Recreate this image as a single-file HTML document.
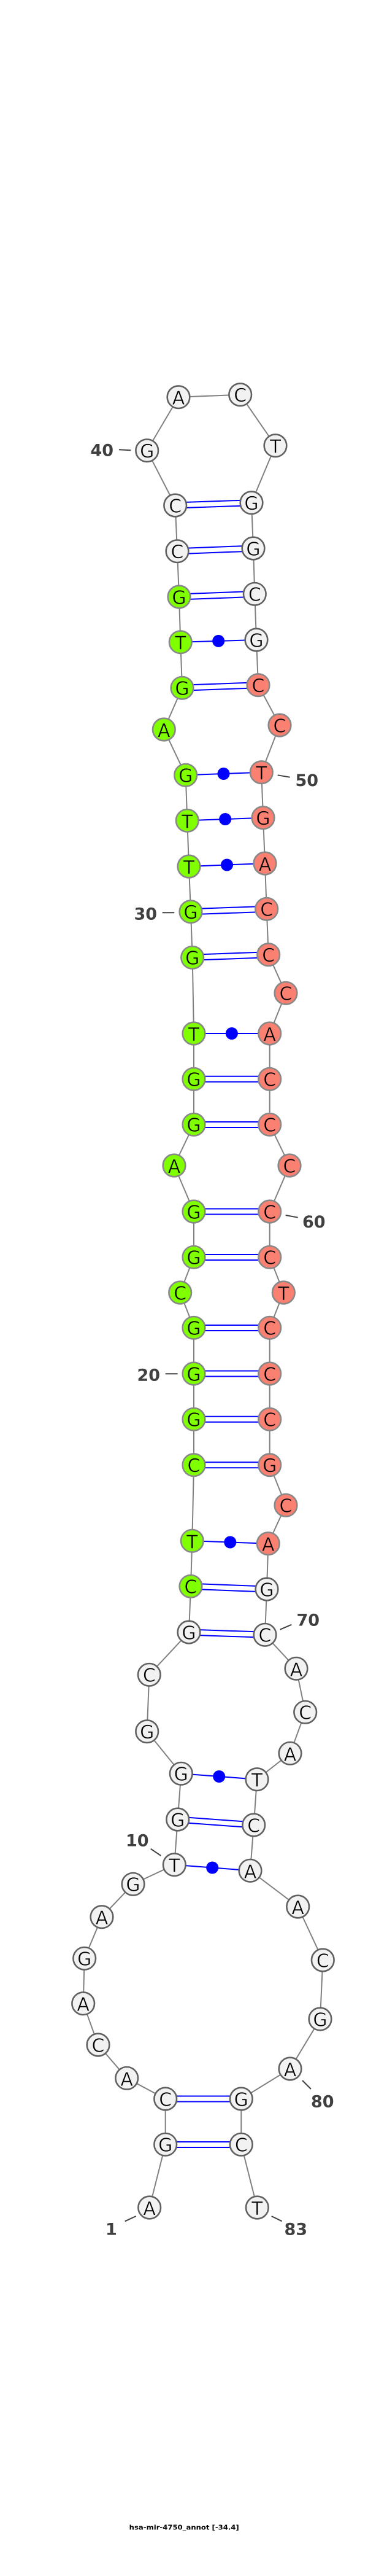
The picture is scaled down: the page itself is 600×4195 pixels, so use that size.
<!DOCTYPE html>
<html><head><meta charset="utf-8"><title>hsa-mir-4750_annot</title>
<style>
html,body{margin:0;padding:0;background:#fff}
svg{display:block}
.w circle{fill:#f2f2f2;stroke:#606060}
.g circle{fill:#7fff00;stroke:#888}
.r circle{fill:#fa8072;stroke:#888}
circle.n,.w circle,.g circle,.r circle{stroke-width:2.6}
.w text,.g text,.r text{font:30px "DejaVu Sans",sans-serif;fill:#000;text-anchor:middle;stroke-width:.6}
.w text{stroke:#f2f2f2}
.g text{stroke:#7fff00}
.r text{stroke:#fa8072}
.num{font:bold 27px "DejaVu Sans",sans-serif;fill:#404040}
</style></head><body>
<svg xmlns="http://www.w3.org/2000/svg" width="600" height="4195" viewBox="0 0 600 4195">
<rect width="600" height="4195" fill="#fff"/>
<polyline fill="none" stroke="#808080" stroke-width="2" points="243.7,3595 269.7,3492.3 269.7,3418 206.7,3384.3 160,3330 135.7,3262.7 137.7,3189.3 166,3121.7 217,3068.3 284.3,3036.7 289.7,2963 295.3,2888.3 239.7,2819.7 243.3,2727.3 308,2658 311,2583.3 313.3,2509.3 316,2385.7 316,2311.3 316,2237 316,2162.3 293.7,2105 316,2047.3 316,1973 284,1898 316,1831.3 316,1757.3 316,1683 313.7,1559.3 311,1484.7 308,1411 305.3,1336.3 302.7,1262.3 267.3,1188 297,1120.3 294.3,1045.7 292,972 289,897.7 285.7,823 239.7,733.7 291,646.7 391.7,642.7 449,725.7 410,818.7 413,893 415.3,967.3 418,1042 421,1115.7 456,1181 426.3,1257.7 429,1331.7 432,1406 434.7,1480.3 437.7,1554.7 466,1617.3 439.7,1683 439.7,1757.3 439.7,1831.3 472,1898 439.7,1973 439.7,2047.3 462.3,2105 439.7,2162.3 439.7,2237 439.7,2311.3 439.7,2385.7 466,2451.3 437.3,2513.7 435,2588 432,2662.3 483,2717.3 497.7,2788.3 473,2855.3 419,2897.7 413.7,2972 408,3046.3 485.7,3105 526.3,3192 522,3288 473,3369 393.3,3418 393.3,3492.3 419.3,3595"/>
<g stroke="#0000ff" stroke-width="2" fill="none">
<path d="M285.7 818.5L410 814.2M285.7 827.5L410 823.2"/>
<path d="M289 893.2L413 888.5M289 902.2L413 897.5"/>
<path d="M292 967.5L415.3 962.8M292 976.5L415.3 971.8"/>
<path d="M294.3 1045.7L418 1042"/>
<path d="M297 1115.8L421 1111.2M297 1124.8L421 1120.2"/>
<path d="M302.7 1262.3L426.3 1257.7"/>
<path d="M305.3 1336.3L429 1331.7"/>
<path d="M308 1411L432 1406"/>
<path d="M311 1480.2L434.7 1475.8M311 1489.2L434.7 1484.8"/>
<path d="M313.7 1554.8L437.7 1550.2M313.7 1563.8L437.7 1559.2"/>
<path d="M316 1683H439.7"/>
<path d="M316 1752.8H439.7M316 1761.8H439.7"/>
<path d="M316 1827H439.7M316 1836H439.7"/>
<path d="M316 1968.5H439.7M316 1977.5H439.7"/>
<path d="M316 2043H439.7M316 2052H439.7"/>
<path d="M316 2158H439.7M316 2167H439.7"/>
<path d="M316 2232.5H439.7M316 2241.5H439.7"/>
<path d="M316 2306.8H439.7M316 2315.8H439.7"/>
<path d="M316 2381.2H439.7M316 2390.2H439.7"/>
<path d="M313.3 2509.3L437.3 2513.7"/>
<path d="M311 2578.8L435 2583.5M311 2587.8L435 2592.5"/>
<path d="M308 2653.5L432 2657.8M308 2662.5L432 2666.8"/>
<path d="M295.3 2888.3L419 2897.7"/>
<path d="M289.7 2958.5L413.7 2967.5M289.7 2967.5L413.7 2976.5"/>
<path d="M284.3 3036.7L408 3046.3"/>
<path d="M269.7 3413.5H393.3M269.7 3422.5H393.3"/>
<path d="M269.7 3488H393.3M269.7 3497H393.3"/>
</g>
<g fill="#0000ff">
<circle cx="356.2" cy="1043.9" r="10"/>
<circle cx="364.5" cy="1260" r="10"/>
<circle cx="367.2" cy="1334" r="10"/>
<circle cx="370" cy="1408.5" r="10"/>
<circle cx="377.9" cy="1683" r="10"/>
<circle cx="375.3" cy="2511.5" r="10"/>
<circle cx="357.2" cy="2893" r="10"/>
<circle cx="346.2" cy="3041.5" r="10"/>
</g>
<g stroke="#404040" stroke-width="2" fill="none">
<path d="M194 732.3L213.3 733.3"/>
<path d="M452.7 1262.3L472.7 1265.7"/>
<path d="M264.7 1486.3H284.3"/>
<path d="M465.7 1979L485.7 1982.7"/>
<path d="M269.7 2237.3H289.7"/>
<path d="M456.7 2653.7L475.3 2645.7"/>
<path d="M245.7 3010.7L262.3 3022"/>
<path d="M493 3388L507 3402"/>
<path d="M203.7 3617.3L221.7 3609"/>
<path d="M442.7 3609L459.7 3617.3"/>
</g>
<g class="w">
<circle cx="291" cy="646.7" r="18.3"/><text x="291" y="658.7">A</text>
<circle cx="391.7" cy="642.7" r="18.3"/><text x="391.7" y="654">C</text>
<circle cx="449" cy="725.7" r="18.3"/><text x="449" y="737.7">T</text>
<circle cx="239.7" cy="733.7" r="18.3"/><text x="239.7" y="745">G</text>
<circle cx="285.7" cy="823" r="18.3"/><text x="285.7" y="834.3">C</text>
<circle cx="410" cy="818.7" r="18.3"/><text x="410" y="830">G</text>
<circle cx="289" cy="897.7" r="18.3"/><text x="289" y="909">C</text>
<circle cx="413" cy="893" r="18.3"/><text x="413" y="904.3">G</text>
<circle cx="415.3" cy="967.3" r="18.3"/><text x="415.3" y="978.6">C</text>
<circle cx="418" cy="1042" r="18.3"/><text x="418" y="1053.3">G</text>
<circle cx="435" cy="2588" r="18.3"/><text x="435" y="2599.3">G</text>
<circle cx="308" cy="2658" r="18.3"/><text x="308" y="2669.3">G</text>
<circle cx="432" cy="2662.3" r="18.3"/><text x="432" y="2673.6">C</text>
<circle cx="243.3" cy="2727.3" r="18.3"/><text x="243.3" y="2738.6">C</text>
<circle cx="483" cy="2717.3" r="18.3"/><text x="483" y="2729.3">A</text>
<circle cx="497.7" cy="2788.3" r="18.3"/><text x="497.7" y="2799.6">C</text>
<circle cx="239.7" cy="2819.7" r="18.3"/><text x="239.7" y="2831">G</text>
<circle cx="473" cy="2855.3" r="18.3"/><text x="473" y="2867.3">A</text>
<circle cx="295.3" cy="2888.3" r="18.3"/><text x="295.3" y="2899.6">G</text>
<circle cx="419" cy="2897.7" r="18.3"/><text x="419" y="2909.7">T</text>
<circle cx="289.7" cy="2963" r="18.3"/><text x="289.7" y="2974.3">G</text>
<circle cx="413.7" cy="2972" r="18.3"/><text x="413.7" y="2983.3">C</text>
<circle cx="284.3" cy="3036.7" r="18.3"/><text x="284.3" y="3048.7">T</text>
<circle cx="408" cy="3046.3" r="18.3"/><text x="408" y="3058.3">A</text>
<circle cx="217" cy="3068.3" r="18.3"/><text x="217" y="3079.6">G</text>
<circle cx="485.7" cy="3105" r="18.3"/><text x="485.7" y="3117">A</text>
<circle cx="166" cy="3121.7" r="18.3"/><text x="166" y="3133.7">A</text>
<circle cx="137.7" cy="3189.3" r="18.3"/><text x="137.7" y="3200.6">G</text>
<circle cx="526.3" cy="3192" r="18.3"/><text x="526.3" y="3203.3">C</text>
<circle cx="135.7" cy="3262.7" r="18.3"/><text x="135.7" y="3274.7">A</text>
<circle cx="522" cy="3288" r="18.3"/><text x="522" y="3299.3">G</text>
<circle cx="160" cy="3330" r="18.3"/><text x="160" y="3341.3">C</text>
<circle cx="473" cy="3369" r="18.3"/><text x="473" y="3381">A</text>
<circle cx="206.7" cy="3384.3" r="18.3"/><text x="206.7" y="3396.3">A</text>
<circle cx="269.7" cy="3418" r="18.3"/><text x="269.7" y="3429.3">C</text>
<circle cx="393.3" cy="3418" r="18.3"/><text x="393.3" y="3429.3">G</text>
<circle cx="269.7" cy="3492.3" r="18.3"/><text x="269.7" y="3503.6">G</text>
<circle cx="393.3" cy="3492.3" r="18.3"/><text x="393.3" y="3503.6">C</text>
<circle cx="243.7" cy="3595" r="18.3"/><text x="243.7" y="3607">A</text>
<circle cx="419.3" cy="3595" r="18.3"/><text x="419.3" y="3607">T</text>
</g>
<g class="g">
<circle cx="292" cy="972" r="18.3"/><text x="292" y="983.3">G</text>
<circle cx="294.3" cy="1045.7" r="18.3"/><text x="294.3" y="1057.7">T</text>
<circle cx="297" cy="1120.3" r="18.3"/><text x="297" y="1131.6">G</text>
<circle cx="267.3" cy="1188" r="18.3"/><text x="267.3" y="1200">A</text>
<circle cx="302.7" cy="1262.3" r="18.3"/><text x="302.7" y="1273.6">G</text>
<circle cx="305.3" cy="1336.3" r="18.3"/><text x="305.3" y="1348.3">T</text>
<circle cx="308" cy="1411" r="18.3"/><text x="308" y="1423">T</text>
<circle cx="311" cy="1484.7" r="18.3"/><text x="311" y="1496">G</text>
<circle cx="313.7" cy="1559.3" r="18.3"/><text x="313.7" y="1570.6">G</text>
<circle cx="316" cy="1683" r="18.3"/><text x="316" y="1695">T</text>
<circle cx="316" cy="1757.3" r="18.3"/><text x="316" y="1768.6">G</text>
<circle cx="316" cy="1831.3" r="18.3"/><text x="316" y="1842.6">G</text>
<circle cx="284" cy="1898" r="18.3"/><text x="284" y="1910">A</text>
<circle cx="316" cy="1973" r="18.3"/><text x="316" y="1984.3">G</text>
<circle cx="316" cy="2047.3" r="18.3"/><text x="316" y="2058.6">G</text>
<circle cx="293.7" cy="2105" r="18.3"/><text x="293.7" y="2116.3">C</text>
<circle cx="316" cy="2162.3" r="18.3"/><text x="316" y="2173.6">G</text>
<circle cx="316" cy="2237" r="18.3"/><text x="316" y="2248.3">G</text>
<circle cx="316" cy="2311.3" r="18.3"/><text x="316" y="2322.6">G</text>
<circle cx="316" cy="2385.7" r="18.3"/><text x="316" y="2397">C</text>
<circle cx="313.3" cy="2509.3" r="18.3"/><text x="313.3" y="2521.3">T</text>
<circle cx="311" cy="2583.3" r="18.3"/><text x="311" y="2594.6">C</text>
</g>
<g class="r">
<circle cx="421" cy="1115.7" r="18.3"/><text x="421" y="1127">C</text>
<circle cx="456" cy="1181" r="18.3"/><text x="456" y="1192.3">C</text>
<circle cx="426.3" cy="1257.7" r="18.3"/><text x="426.3" y="1269.7">T</text>
<circle cx="429" cy="1331.7" r="18.3"/><text x="429" y="1343">G</text>
<circle cx="432" cy="1406" r="18.3"/><text x="432" y="1418">A</text>
<circle cx="434.7" cy="1480.3" r="18.3"/><text x="434.7" y="1491.6">C</text>
<circle cx="437.7" cy="1554.7" r="18.3"/><text x="437.7" y="1566">C</text>
<circle cx="466" cy="1617.3" r="18.3"/><text x="466" y="1628.6">C</text>
<circle cx="439.7" cy="1683" r="18.3"/><text x="439.7" y="1695">A</text>
<circle cx="439.7" cy="1757.3" r="18.3"/><text x="439.7" y="1768.6">C</text>
<circle cx="439.7" cy="1831.3" r="18.3"/><text x="439.7" y="1842.6">C</text>
<circle cx="472" cy="1898" r="18.3"/><text x="472" y="1909.3">C</text>
<circle cx="439.7" cy="1973" r="18.3"/><text x="439.7" y="1984.3">C</text>
<circle cx="439.7" cy="2047.3" r="18.3"/><text x="439.7" y="2058.6">C</text>
<circle cx="462.3" cy="2105" r="18.3"/><text x="462.3" y="2117">T</text>
<circle cx="439.7" cy="2162.3" r="18.3"/><text x="439.7" y="2173.6">C</text>
<circle cx="439.7" cy="2237" r="18.3"/><text x="439.7" y="2248.3">C</text>
<circle cx="439.7" cy="2311.3" r="18.3"/><text x="439.7" y="2322.6">C</text>
<circle cx="439.7" cy="2385.7" r="18.3"/><text x="439.7" y="2397">G</text>
<circle cx="466" cy="2451.3" r="18.3"/><text x="466" y="2462.6">C</text>
<circle cx="437.3" cy="2513.7" r="18.3"/><text x="437.3" y="2525.7">A</text>
</g>
<g class="num">
<text x="147.5" y="742.7">40</text>
<text x="481.5" y="1280">50</text>
<text x="218.5" y="1497.7">30</text>
<text x="493" y="1999">60</text>
<text x="223.5" y="2248.7">20</text>
<text x="483.5" y="2647.7">70</text>
<text x="205" y="3006.3">10</text>
<text x="507" y="3431.7">80</text>
<text x="172" y="3639.3">1</text>
<text x="463.5" y="3639.3">83</text>
</g>
<text x="210.7" y="4119.3" textLength="179" lengthAdjust="spacingAndGlyphs" style="font:bold 11px 'DejaVu Sans',sans-serif;fill:#000">hsa-mir-4750_annot [-34.4]</text>
</svg>
</body></html>
